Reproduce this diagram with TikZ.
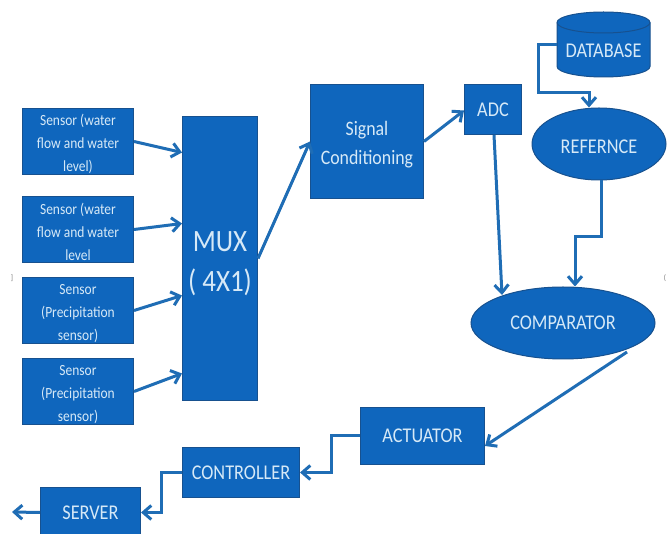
\documentclass[tikz,border=0pt]{standalone}
\usepackage{fontspec}
\setmainfont[FakeStretch=0.87]{Carlito}
\usetikzlibrary{arrows.meta,shapes.geometric,calc}
\definecolor{boxblue}{HTML}{0F66BD}
\definecolor{edgeblue}{HTML}{17518F}
\definecolor{linkblue}{HTML}{1F6DB5}
\definecolor{txtblue}{HTML}{D6E9F7}
\newcommand{\topgap}[1]{\rule{0pt}{#1}}
\tikzset{
  x=1pt,y=-1pt,
  blk/.style={draw=edgeblue,line width=1pt,fill=boxblue,text=txtblue,inner sep=0pt,align=center,anchor=north west},
  oval/.style={ellipse,draw=edgeblue,line width=1pt,fill=boxblue,text=txtblue,inner sep=0pt,align=center},
  link/.style={draw=linkblue,line width=3pt,-{Straight Barb[length=8pt,width=14pt,line width=3pt]}},
  sens/.style={blk,minimum width=111pt,minimum height=66pt,font=\fontsize{15.5}{23}\selectfont},
  stray/.style={text=black!55,font=\fontsize{8}{8}\selectfont,inner sep=0pt}
}
\begin{document}
\begin{tikzpicture}
\useasboundingbox (0,0) rectangle (670,534);
\fill[white] (0,0) rectangle (670,534);
\clip (0,0) rectangle (670,534);
\node[sens] (s1) at (22,108) {\topgap{16pt}Sensor (water\\flow and water\\level)};
\node[sens] (s2) at (22,196) {\topgap{16pt}Sensor (water\\flow and water\\level};
\node[sens] (s3) at (22,277) {\topgap{16pt}Sensor\\(Precipitation\\sensor)};
\node[sens] (s4) at (22,358) {\topgap{16pt}Sensor\\(Precipitation\\sensor)};
\node[blk,minimum width=75pt,minimum height=284pt,font=\fontsize{31}{40}\selectfont] (mux) at (182,116) {\topgap{30pt}MUX\\( 4X1)};
\node[blk,minimum width=113pt,minimum height=114pt,font=\fontsize{20.5}{29}\selectfont] (sig) at (310,84) {\topgap{21pt}Signal\\Conditioning};
\node[blk,minimum width=57pt,minimum height=50pt,font=\fontsize{21}{24}\selectfont] (adc) at (464,84) {ADC};
\draw[draw=edgeblue,line width=1pt,fill=boxblue] (557,22.5) -- (557,66.5) arc[start angle=180,end angle=360,x radius=46.5pt,y radius=10.5pt] -- (650,22.5) arc[start angle=0,end angle=180,x radius=46.5pt,y radius=10.5pt] -- cycle;
\draw[draw=edgeblue,line width=1pt] (557,22.5) arc[start angle=180,end angle=360,x radius=46.5pt,y radius=10.5pt];
\node[inner sep=0pt,text=txtblue,minimum width=93pt,minimum height=40pt,font=\fontsize{21}{24}\selectfont] (db) at (603.5,48) {\topgap{20pt}DATABASE};
\node[oval,minimum width=134pt,minimum height=72pt,font=\fontsize{21}{24}\selectfont] (ref) at (599,144) {\topgap{20pt}REFERNCE};
\node[oval,minimum width=184pt,minimum height=72pt,font=\fontsize{21}{24}\selectfont] (cmp) at (563,323) {COMPARATOR};
\node[blk,minimum width=124pt,minimum height=57pt,font=\fontsize{21}{24}\selectfont] (act) at (360,407) {ACTUATOR};
\node[blk,minimum width=117pt,minimum height=50pt,font=\fontsize{21}{24}\selectfont] (ctl) at (182,447) {CONTROLLER};
\node[blk,minimum width=100pt,minimum height=50pt,font=\fontsize{21}{24}\selectfont] (srv) at (40,487) {SERVER};
\node[stray] (m1) at (12,278) {]};
\node[stray] (m2) at (665,278) {(};
\coordinate (out) at (12,512);
\draw[link] (s1.east) -- ([yshift=106pt]mux.west);
\draw[link] (s2.east) -- ([yshift=35pt]mux.west);
\draw[link] (s3.east) -- ([yshift=-37pt]mux.west);
\draw[link] (s4.east) -- ([yshift=-115pt]mux.west);
\draw[link] (mux.east) -- (sig.west);
\draw[link] (sig.east) -- ([yshift=-1pt]adc.west);
\draw[link] ([yshift=3pt]db.west) -- ++(-18,0) -- ++(0,48) -| ([xshift=-10pt]ref.north);
\draw[link] ([xshift=-28pt]adc.south east) -- ($(cmp.center)+(-61,-28)$);
\draw[link] ([xshift=2pt]ref.south) -- ++(0,56) -| ([xshift=12pt]cmp.north);
\draw[link] ($(cmp.center)+(64,29)$) -- ([yshift=-10pt]act.east);
\draw[link] (act.west) -- ++(-29,0) |- (ctl.east);
\draw[link] (ctl.west) -- ++(-21,0) |- (srv.east);
\draw[link] (srv.west) -- (out);
\end{tikzpicture}
\end{document}
